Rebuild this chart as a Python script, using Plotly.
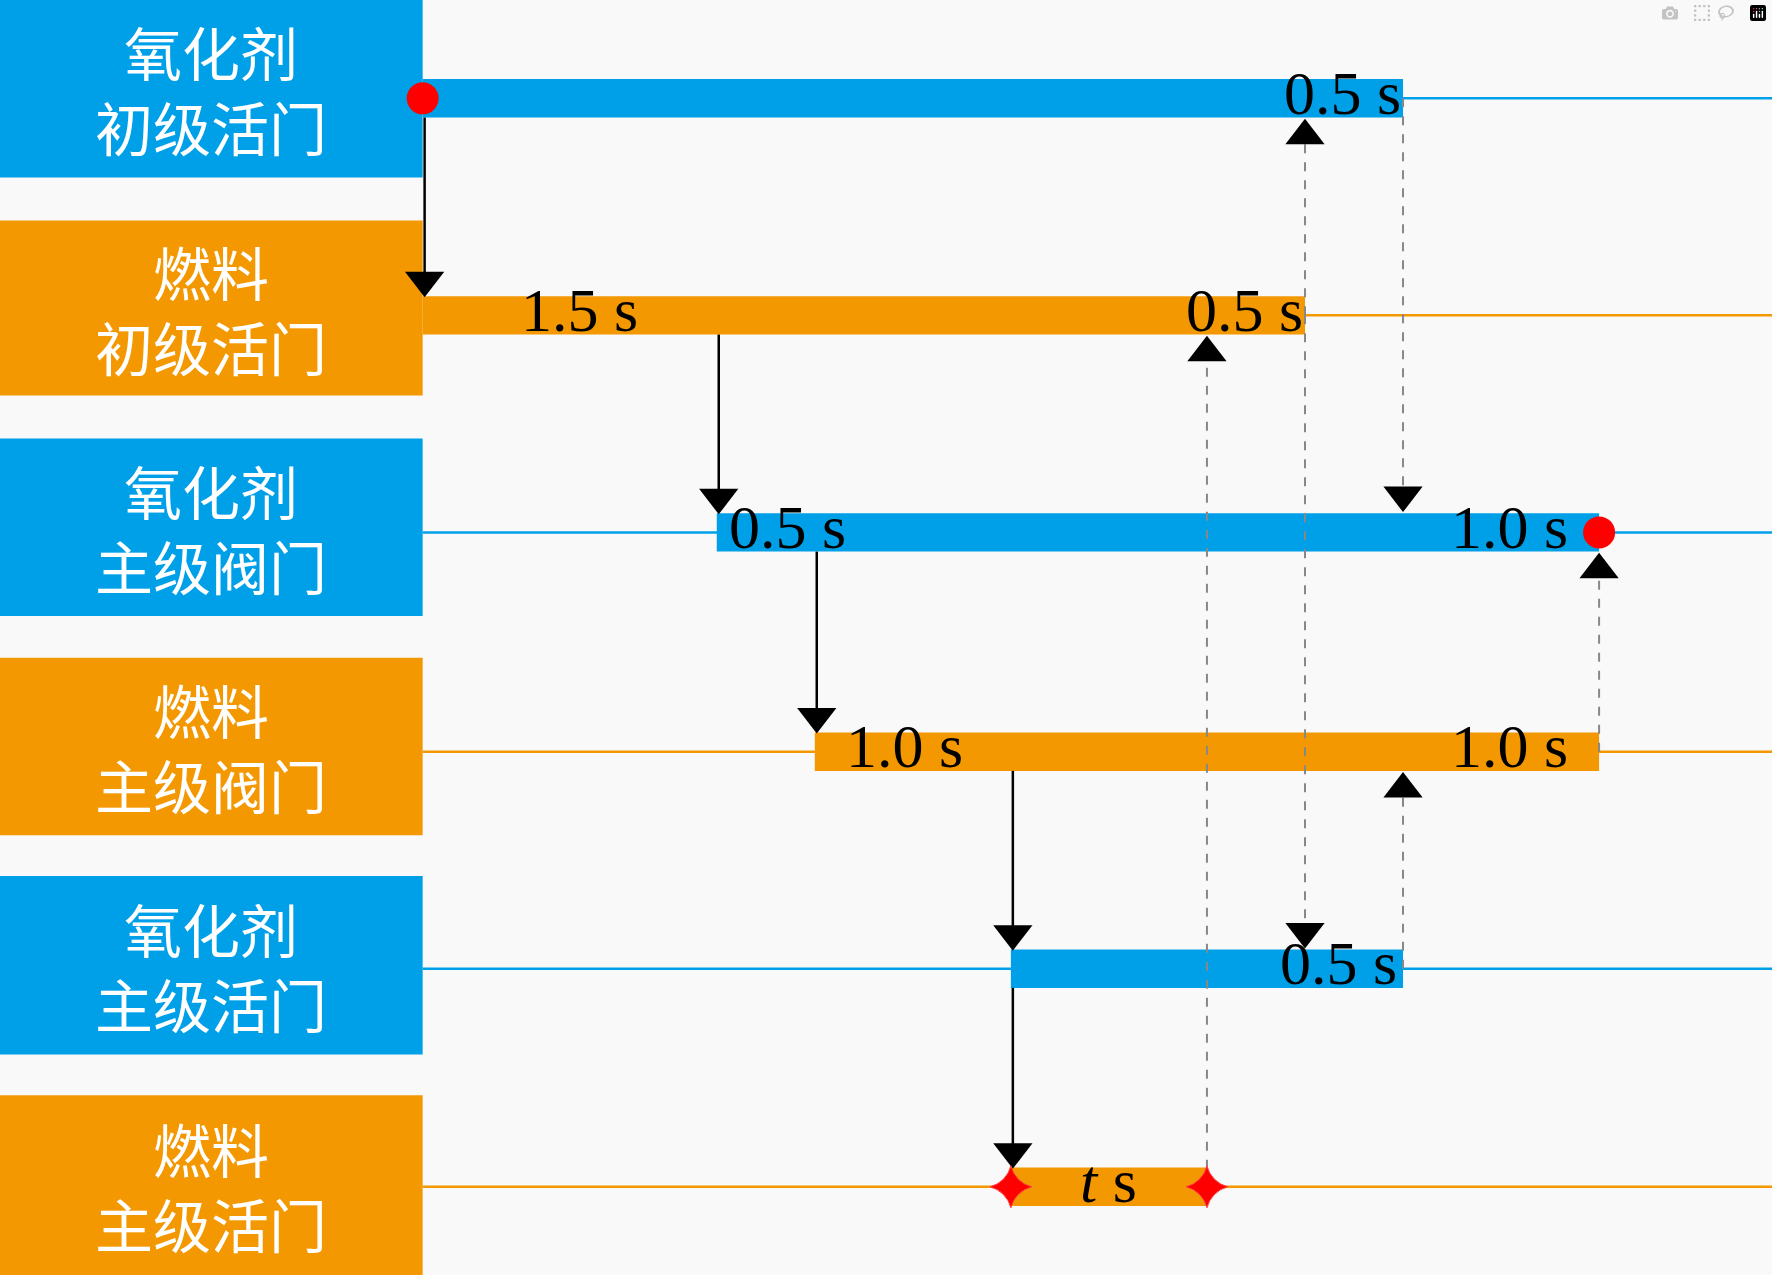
import plotly.graph_objects as go

BLUE = "#00a0e9"
ORANGE = "#f39800"

row_labels = ["氧化剂<br>初级活门", "燃料<br>初级活门", "氧化剂<br>主级阀门",
              "燃料<br>主级阀门", "氧化剂<br>主级活门", "燃料<br>主级活门"]
row_colors = [BLUE, ORANGE, BLUE, ORANGE, BLUE, ORANGE]
row_y = [87, 279, 471, 665, 857, 1050]          # row centre positions (display units)
box_top = [0, 195, 388, 582, 775, 969]
box_bot = [157, 350, 545, 739, 933, 1128]
bar_start = [0.0, 0.0, 1.5, 2.0, 3.0, 3.0]     # seconds
bar_end = [5.0, 4.5, 6.0, 6.0, 5.0, 4.0]

labels = [
    (0, 5.0, "0.5 s", "right"),
    (1, 0.8, "1.5 s", "center"),
    (1, 4.5, "0.5 s", "right"),
    (2, 1.55, "0.5 s", "left"),
    (2, 5.85, "1.0 s", "right"),
    (3, 2.15, "1.0 s", "left"),
    (3, 5.85, "1.0 s", "right"),
    (4, 4.98, "0.5 s", "right"),
    (5, 3.5, "<i>t</i> s", "center"),
]

solid = [(0.0, 0, 1), (1.5, 1, 2), (2.0, 2, 3), (3.0, 3, 4), (3.0, 4, 5)]
dashed = [(4.5, 279, 0), (4.5, 279, 4), (5.0, 87, 2), (5.0, 857, 3), (4.0, 1050, 1), (6.0, 665, 2)]

PX = 173.5
xmin, xmax = -374 / PX, (1568 - 374) / PX
H = 17

fig = go.Figure()
shapes, ann = [], []
for i in range(6):
    c = row_colors[i]
    shapes.append(dict(type="line", x0=0, x1=xmax, y0=row_y[i], y1=row_y[i],
                       line=dict(color=c, width=2.5), layer="below"))
    shapes.append(dict(type="rect", x0=xmin, x1=0, y0=box_top[i], y1=box_bot[i],
                       fillcolor=c, line_width=0, layer="below"))
    shapes.append(dict(type="rect", x0=bar_start[i], x1=bar_end[i], y0=row_y[i] - H, y1=row_y[i] + H,
                       fillcolor=c, line_width=0, layer="below"))
    ann.append(dict(x=xmin / 2, y=(box_top[i] + box_bot[i]) / 2, text=row_labels[i], showarrow=False,
                    font=dict(family="Noto Sans CJK SC", size=58, color="white")))

for r, x, t, a in labels:
    ann.append(dict(x=x, y=row_y[r] - 5, text=t, showarrow=False, xanchor=a,
                    font=dict(family="Liberation Serif", size=62, color="black")))

tri_x, tri_y, tri_s = [], [], []
for x, r0, r1 in solid:
    y0 = row_y[r0] + H
    y1 = row_y[r1] - H
    shapes.append(dict(type="line", x0=x + 0.01, x1=x + 0.01, y0=y0, y1=y1 - 10,
                       line=dict(color="black", width=2.5)))
    tri_x.append(x + 0.01); tri_y.append(y1 - 14); tri_s.append("triangle-down")

for x, yf, r in dashed:
    if row_y[r] < yf:
        yt = row_y[r] + H + 16
        sym = "triangle-up"
        ye = yt + 6
    else:
        yt = row_y[r] - H - 16
        sym = "triangle-down"
        ye = yt - 6
    shapes.append(dict(type="line", x0=x, x1=x, y0=yf, y1=ye,
                       line=dict(color="#888888", width=2, dash="dash"), layer="below"))
    tri_x.append(x); tri_y.append(yt); tri_s.append(sym)

fig.add_trace(go.Scatter(x=tri_x, y=tri_y, mode="markers",
                         marker=dict(symbol=tri_s, size=34, color="black"), hoverinfo="skip"))
fig.add_trace(go.Scatter(x=[0.0, 6.0], y=[row_y[0], row_y[2]], mode="markers",
                         marker=dict(size=32, color="red"), hoverinfo="skip"))
fig.add_trace(go.Scatter(x=[3.0, 4.0], y=[row_y[5], row_y[5]], mode="markers",
                         marker=dict(symbol="star-diamond", size=30, color="red",
                                     line=dict(color="#ff4040", width=1)), hoverinfo="skip"))

fig.update_layout(width=1772, height=1275, margin=dict(l=0, r=0, t=0, b=0),
                  paper_bgcolor="#f9f9f9", plot_bgcolor="#f9f9f9", showlegend=False,
                  shapes=shapes, annotations=ann,
                  xaxis=dict(range=[xmin, xmax], visible=False, fixedrange=True),
                  yaxis=dict(range=[1128, 0], visible=False, fixedrange=True))
fig.write_html("out.html", post_script="document.body.style.margin='0';document.body.style.background='#f9f9f9';")
